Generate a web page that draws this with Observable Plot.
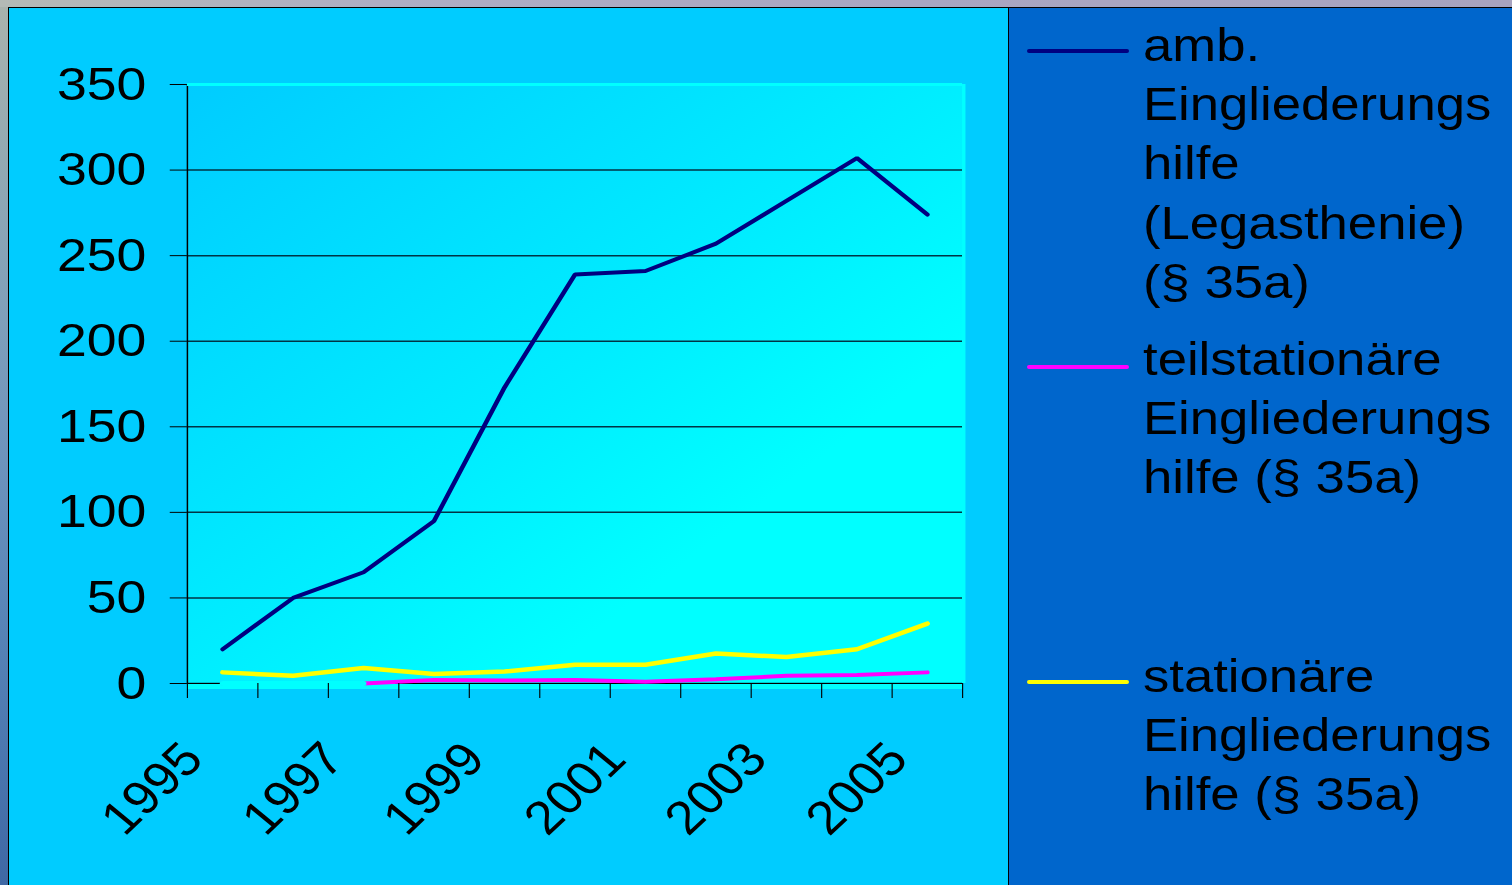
<!DOCTYPE html>
<html>
<head>
<meta charset="utf-8">
<script src="https://cdn.jsdelivr.net/npm/d3@7"></script>
<script src="https://cdn.jsdelivr.net/npm/@observablehq/plot@0.6"></script>
<style>
  html, body { margin: 0; padding: 0; width: 1512px; height: 885px; overflow: hidden; }
  body {
    position: relative;
    font-family: 'Liberation Sans', Arial, Helvetica, sans-serif;
    background: linear-gradient(180deg, #aab3ad 0%, #93a9b2 18%, #7f9fba 36%, #6d93bd 52%, #5a86b8 68%, #4c78b0 84%, #3f68a4 100%);
  }
  #topstrip { position: absolute; left: 0; top: 0; width: 1512px; height: 7px;
    background: linear-gradient(90deg, #b4bab6 0%, #aeaec4 25%, #a9a6c2 60%, #a7a3bf 100%); }
  #frame { position: absolute; left: 8px; top: 7px; width: 1504px; height: 878px; background: #000; }
  #chart { position: absolute; left: 9px; top: 8px; width: 999px; height: 877px; background: #00CCFF; overflow: hidden; }
  #chart svg { display: block; transform: scaleX(1.14); transform-origin: 0 0; max-width: none !important; }
  #legend { position: absolute; left: 1009px; top: 8px; width: 503px; height: 877px; background: #0066CC; overflow: hidden; }
  .swatch { position: absolute; left: 18px; width: 102px; height: 4px; border-radius: 2px; }
  .ltext { position: absolute; left: 134px; font-size: 47px; line-height: 59.2px; color: #000;
    white-space: nowrap; transform: scaleX(1.12); transform-origin: 0 0; }
</style>
</head>
<body>
<div id="topstrip"></div>
<div id="frame"></div>
<div id="chart"></div>
<div id="legend"></div>
<script>
// ---- data ----
const years = [1995, 1996, 1997, 1998, 1999, 2000, 2001, 2002, 2003, 2004, 2005];
const yearLabels = [1995, 1997, 1999, 2001, 2003, 2005];
const yTicks = [0, 50, 100, 150, 200, 250, 300, 350];
const seriesNames = [
  "amb. Eingliederungshilfe (Legasthenie) (§ 35a)",
  "teilstationäre Eingliederungshilfe (§ 35a)",
  "stationäre Eingliederungshilfe (§ 35a)"
];
const legendLines = [
  ["amb.", "Eingliederungs", "hilfe", "(Legasthenie)", "(§ 35a)"],
  ["teilstationäre", "Eingliederungs", "hilfe (§ 35a)"],
  ["stationäre", "Eingliederungs", "hilfe (§ 35a)"]
];
const ambValues  = [20, 50, 65, 95, 173, 239, 241, 257, 282, 307, 274];
const teilValues = [0, 0, 0, 2, 1.75, 2, 1, 2.5, 4.5, 5, 6.5];
const statValues = [6.5, 4.5, 9, 5.5, 7, 11, 11, 17.5, 15.5, 20, 35];
const seriesColors = ["#000080", "#FF00FF", "#FFFF00"];

// ---- build table ----
const allValues = [ambValues, teilValues, statValues];
const rows = [];
allValues.forEach((vals, s) => years.forEach((yr, i) => rows.push({series: seriesNames[s], year: yr, value: vals[i]})));
const bySeries = s => rows.filter(d => d.series === seriesNames[s]);
const boundaries = [years[0] - 0.5, ...years.map(y => y + 0.5)];
const xDomain = [boundaries[0], boundaries[boundaries.length - 1]];
const FS = 47;

const plot = Plot.plot({
  width: 876,
  height: 877,
  marginLeft: 156,
  marginRight: 40,
  marginTop: 76,
  marginBottom: 202,
  x: {type: "linear", domain: xDomain, label: null},
  y: {domain: [0, 350], label: null},
  style: {background: "transparent", fontFamily: "'Liberation Sans', Arial, Helvetica, sans-serif", fontSize: FS + "px", color: "#000", overflow: "visible"},
  marks: [
    Plot.frame({fill: "url(#plotGrad)", stroke: null}),
    Plot.gridY({ticks: yTicks, stroke: "#003344", strokeOpacity: 1, strokeWidth: 1.5}),
    Plot.ruleY([0], {stroke: "#00FFFF", strokeWidth: 5, dy: 3}),
    Plot.ruleY([0], {stroke: "#000"}),
    Plot.ruleX([xDomain[0]], {stroke: "#000", strokeWidth: 1.3}),
    Plot.ruleY([350], {stroke: "#00FFFF", strokeWidth: 3}),
    Plot.ruleX([xDomain[1]], {stroke: "#00FFFF", strokeWidth: 3, dx: 1}),
    Plot.line(bySeries(0), {x: "year", y: "value", stroke: seriesColors[0], strokeWidth: 4, strokeLinejoin: "miter"}),
    Plot.line(bySeries(1), {x: "year", y: "value", stroke: seriesColors[1], strokeWidth: 4, strokeLinejoin: "miter"}),
    Plot.line(bySeries(1).filter(d => d.value === 0), {x: "year", y: "value", stroke: "#00FFFF", strokeWidth: 5}),
    Plot.line(bySeries(2), {x: "year", y: "value", stroke: seriesColors[2], strokeWidth: 4.5, strokeLinejoin: "miter"}),
    Plot.axisY({ticks: yTicks, tickSize: 15, tickPadding: 21, fontSize: FS, tickFormat: d => String(d), stroke: "#000", label: null}),
    Plot.axisX({ticks: boundaries, tickSize: 15, tickFormat: () => "", stroke: "#000", label: null}),
    Plot.axisX({ticks: yearLabels, tickSize: 0, tickPadding: 67, tickRotate: -47, dx: -26, fontSize: FS, tickFormat: d => String(d), label: null})
  ]
});

const ns = "http://www.w3.org/2000/svg";
const defs = document.createElementNS(ns, "defs");
defs.innerHTML = '<linearGradient id="plotGrad" x1="0" y1="0" x2="1" y2="1">' +
  '<stop offset="0" stop-color="#00CCFF"/>' +
  '<stop offset="0.5" stop-color="#00EEFF"/>' +
  '<stop offset="0.72" stop-color="#00FFFF"/>' +
  '<stop offset="1" stop-color="#00FFFF"/>' +
  '</linearGradient>';
plot.insertBefore(defs, plot.firstChild);
document.getElementById("chart").appendChild(plot);

// ---- legend ----
const legend = document.getElementById("legend");
const swatchTops = [41, 357, 672];
const textTops = [7, 321, 638];
seriesNames.forEach((name, i) => {
  const sw = document.createElement("div");
  sw.className = "swatch";
  sw.style.top = swatchTops[i] + "px";
  sw.style.background = seriesColors[i];
  legend.appendChild(sw);
  const tx = document.createElement("div");
  tx.className = "ltext";
  tx.style.top = textTops[i] + "px";
  tx.title = name;
  tx.innerHTML = legendLines[i].join("<br>");
  legend.appendChild(tx);
});
</script>
</body>
</html>
